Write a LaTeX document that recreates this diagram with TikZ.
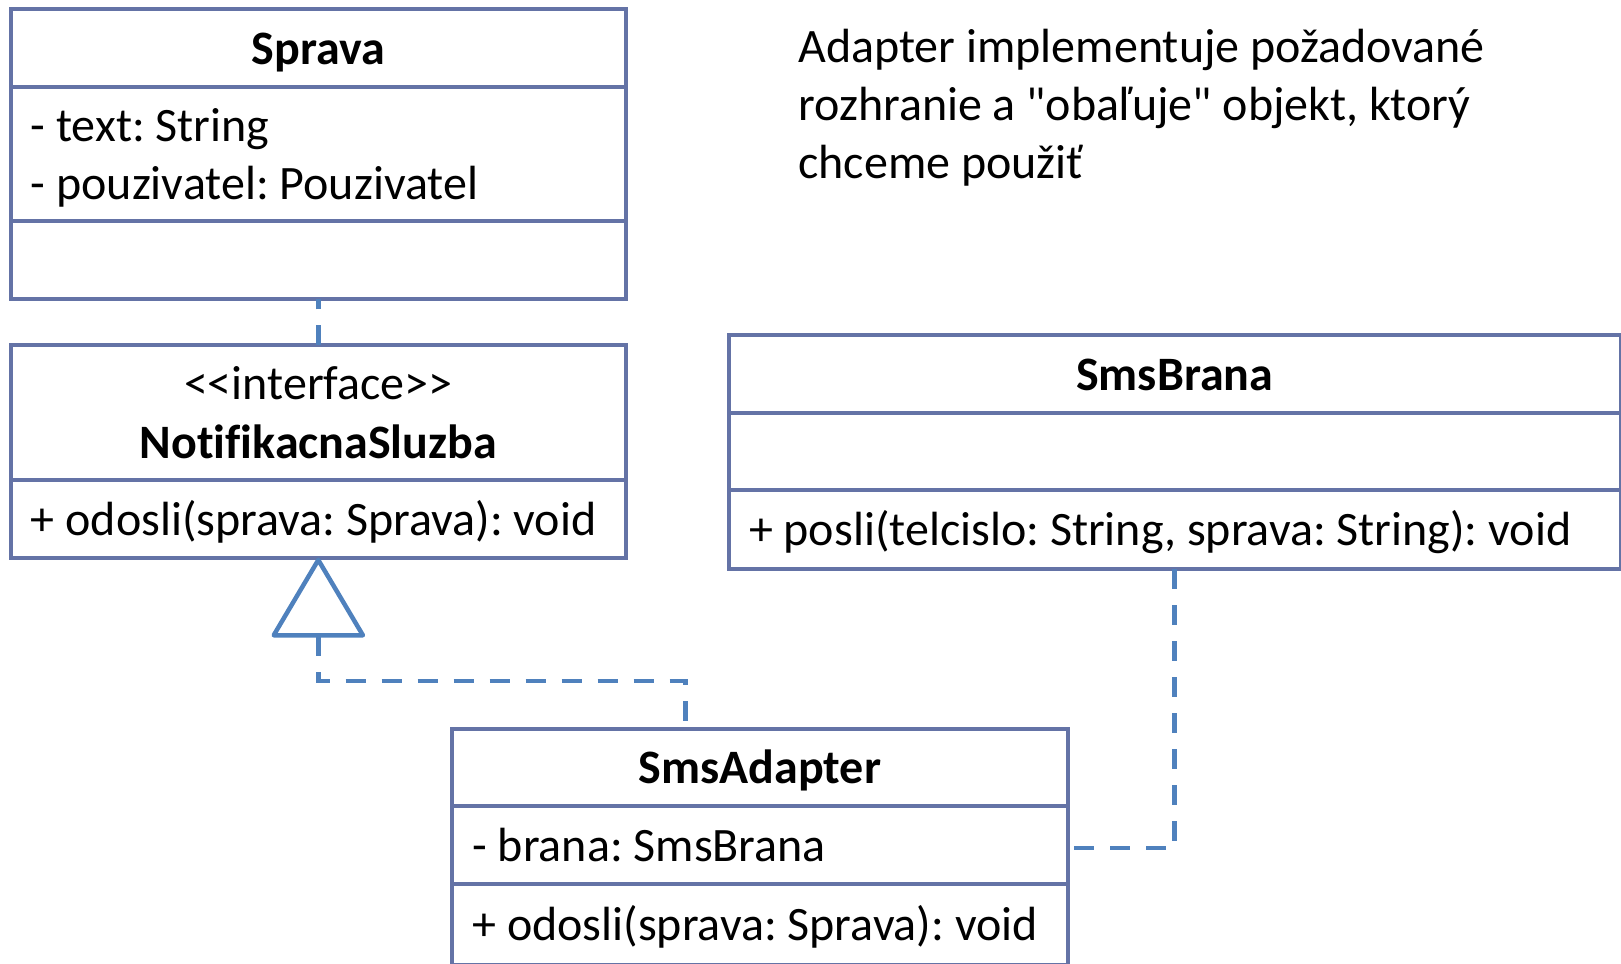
\documentclass[tikz,border=0pt]{standalone}
\usepackage{fontspec}
\setmainfont{Carlito}[Ligatures={TeXOff,CommonOff}]
\usetikzlibrary{arrows.meta}
\definecolor{boxline}{RGB}{100,115,166}
\definecolor{linkblue}{RGB}{79,129,189}
% line box of the text: ascent and descent of the font, 29.3pt in all
\newcommand{\cstrut}{\rule[-6.46pt]{0pt}{29.3pt}}

\begin{document}
\begin{tikzpicture}[x=1pt, y=-1pt,
  cls/.style={draw=boxline, line width=1.85pt, inner xsep=10pt, inner ysep=0pt,
    outer sep=0pt, font=\fontsize{24}{29.3}\selectfont\frenchspacing,
    execute at begin node=\cstrut, execute at end node=\cstrut},
  title/.style={cls, align=flush center},
  members/.style={cls, align=flush left},
  link/.style={draw=linkblue, line width=2.25pt, dash pattern=on 10pt off 8pt},
  note/.style={inner sep=0pt, align=flush left, text width=370pt,
    font=\fontsize{24}{29}\selectfont\frenchspacing,
    execute at begin node=\cstrut, execute at end node=\cstrut}]
\clip (0,0) rectangle (810.5,481.5);

% class Sprava
\node[title, minimum width=307.5pt, text width=287.5pt, minimum height=39pt] (spT)
  at (159.15,24.15) {\textbf{Sprava}};
\node[members, minimum width=307.5pt, text width=287.5pt, minimum height=66.95pt] (spA)
  at (159.15,77.1) {- text: String\\- pouzivatel: Pouzivatel};
\node[title, minimum width=307.5pt, text width=287.5pt, minimum height=39.05pt] (spO)
  at (159.15,130.1) {};

% interface NotifikacnaSluzba
\node[title, minimum width=307.5pt, text width=287.5pt, minimum height=67.2pt] (nsT)
  at (159.15,206.25) {<{}<interface>{}>\\\textbf{NotifikacnaSluzba}};
\node[members, minimum width=307.5pt, text width=287.5pt, minimum height=39pt] (nsO)
  at (159.15,259.35) {+ odosli(sprava: Sprava): void};

% class SmsBrana
\node[title, minimum width=445.7pt, text width=425.7pt, minimum height=38.85pt] (brT)
  at (587.35,186.9) {\textbf{SmsBrana}};
\node[title, minimum width=445.7pt, text width=425.7pt, minimum height=38.65pt] (brA)
  at (587.35,225.7) {};
\node[members, minimum width=445.7pt, text width=425.7pt, minimum height=39.5pt] (brO)
  at (587.35,264.75) {+ posli(telcislo: String, sprava: String): void};

% class SmsAdapter
\node[title, minimum width=307.7pt, text width=287.7pt, minimum height=38.35pt] (adT)
  at (380,383.7) {\textbf{SmsAdapter}};
\node[members, minimum width=307.7pt, text width=287.7pt, minimum height=39.1pt] (adA)
  at (380,422.4) {- brana: SmsBrana};
\node[members, minimum width=307.7pt, text width=287.7pt, minimum height=40.55pt] (adO)
  at (380,462.2) {+ odosli(sprava: Sprava): void};

% note
\node[note, anchor=north west] (note) at (399,8.45)
  {Adapter implementuje požadované\\rozhranie a "obaľuje" objekt, ktorý\\chceme použiť};

% relations
\draw[link] (nsT.north) -- (spO.south);
\draw[link, {Triangle[open, round, length=41pt, width=48pt]}-]
  (nsO.south) -- ++(0,61.65) -| ([xshift=-37.3pt]adT.north);
\draw[link] (brO.south) |- ([yshift=-1.6pt]adA.east);
\end{tikzpicture}
\end{document}
